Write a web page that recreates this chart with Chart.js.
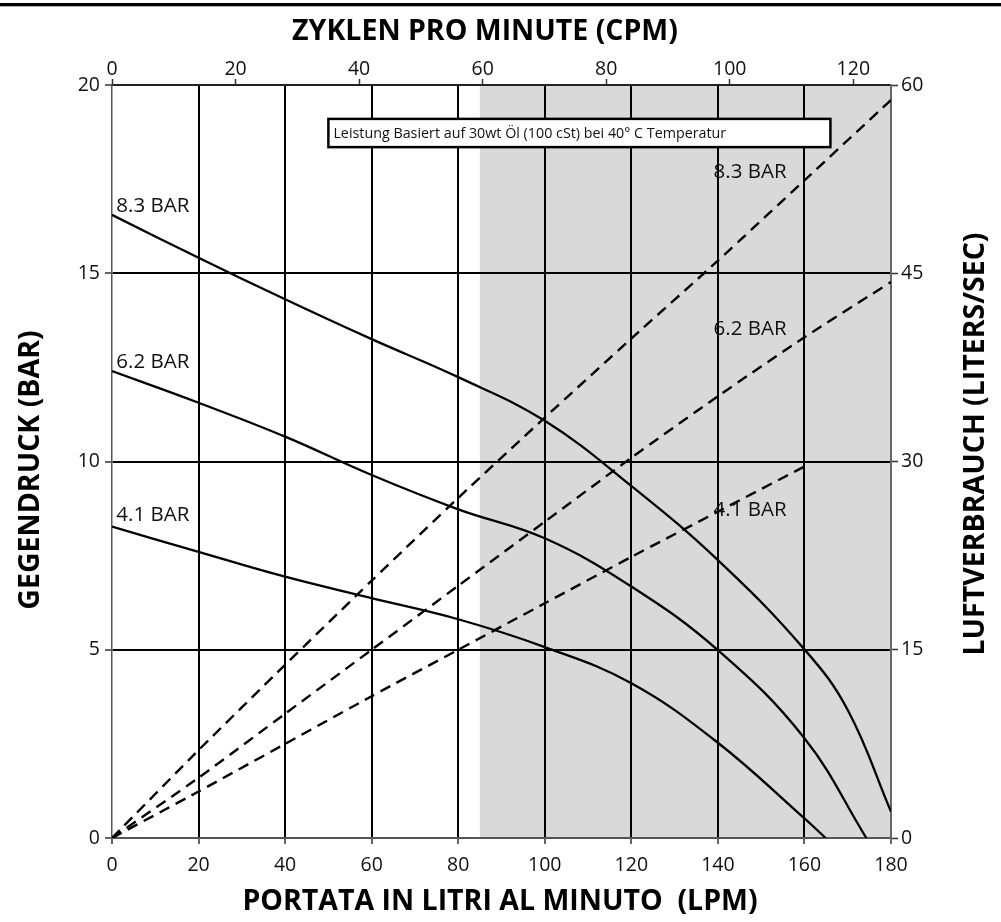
<!DOCTYPE html>
<html>
<head>
<meta charset="utf-8">
<script src="https://cdn.jsdelivr.net/npm/chart.js@4.4.1/dist/chart.umd.min.js"></script>
<style>
  html, body { margin: 0; padding: 0; background: #fff; }
  #wrap { width: 1001px; height: 922px; position: relative; }
</style>
</head>
<body>
<div id="wrap"><canvas id="pumpChart"></canvas></div>
<script>
// Kennlinien (Gegendruck in BAR über LPM)
const lpm83 = [0, 20, 40, 60, 80, 100, 120, 140, 160, 170, 180];
const bar83 = [16.55, 15.41, 14.31, 13.25, 12.24, 11.08, 9.35, 7.38, 5.01, 3.4, 0.7];

const lpm62 = [0, 20, 40, 60, 80, 100, 120, 140, 160, 174.3];
const bar62 = [12.4, 11.56, 10.66, 9.64, 8.73, 7.96, 6.68, 4.99, 2.65, 0];

const lpm41 = [0, 20, 40, 60, 80, 100, 120, 140, 160, 164.9];
const bar41 = [8.27, 7.6, 6.94, 6.37, 5.81, 5.07, 4.11, 2.53, 0.52, 0];

// Luftverbrauch (LITERS/SEC) über LPM
const airLpm = [0, 20, 40, 60, 80, 100, 120, 140, 160, 180];
const air83 = [0, 7.0, 13.8, 20.5, 27.1, 33.5, 39.8, 46.0, 52.4, 58.8];
const air62 = [0, 4.8, 9.9, 15.0, 20.1, 25.2, 30.3, 35.2, 39.9, 44.3];
const airLpm41 = [0, 20, 40, 60, 80, 100, 120, 140, 160];
const air41 = [0, 3.7, 7.5, 11.3, 15.0, 18.7, 22.4, 26.0, 29.6];

const curveNames = ['8.3 BAR', '6.2 BAR', '4.1 BAR'];

// Achsen
const lpmMax = 180, lpmStep = 20;
const barMax = 20, barStep = 5;
const lpsMax = 60, lpsStep = 15;
const cpmMax = 126.1, cpmStep = 20;
const shadeFrom = 85; // grauer Bereich ab 85 LPM

const FONT = "'Open Sans', 'Noto Sans', sans-serif";

const toXY = (xs, ys) => xs.map((x, i) => ({ x: x, y: ys[i] }));

function solid(xs, ys) {
  return {
    data: toXY(xs, ys), xAxisID: 'x', yAxisID: 'y',
    borderColor: '#000', borderWidth: 2.3, pointRadius: 0,
    tension: 0.4, fill: false
  };
}
function dashed(xs, ys) {
  return {
    data: toXY(xs, ys), xAxisID: 'x', yAxisID: 'y2',
    borderColor: '#000', borderWidth: 2.4, borderDash: [11, 7], pointRadius: 0,
    tension: 0.2, fill: false
  };
}

// Rand-Gitterlinien ausblenden (der Achsenrand liegt darüber)
const edgeGrid = (lo, hi) => c => (c.tick && (c.tick.value === lo || c.tick.value === hi)) ? 'rgba(0,0,0,0)' : '#000';

const decor = {
  id: 'decor',
  beforeDraw(chart) {
    const { ctx, chartArea, scales } = chart;
    const x0 = scales.x.getPixelForValue(shadeFrom);
    const x1 = scales.x.getPixelForValue(lpmMax);
    ctx.save();
    ctx.fillStyle = '#d9d9d9';
    ctx.fillRect(x0, chartArea.top, x1 - x0, chartArea.bottom - chartArea.top);
    ctx.fillStyle = '#000';
    ctx.fillRect(0, 3, chart.width, 3.3);
    ctx.restore();
  },
  afterDatasetsDraw(chart) {
    const { ctx, scales } = chart;
    const X = v => scales.x.getPixelForValue(v);
    const Y = v => scales.y.getPixelForValue(v);
    ctx.save();
    ctx.fillStyle = '#111';
    ctx.font = '20.5px ' + FONT;
    ctx.textBaseline = 'middle';
    ctx.textAlign = 'left';
    // links an den Kennlinien
    ctx.fillText(curveNames[0], X(1.0), Y(16.79));
    ctx.fillText(curveNames[1], X(1.0), Y(12.64));
    ctx.fillText(curveNames[2], X(1.0), Y(8.58));
    // rechts an den Luftlinien
    ctx.fillText(curveNames[0], X(139), Y(17.69));
    ctx.fillText(curveNames[1], X(139), Y(13.52));
    ctx.fillText(curveNames[2], X(139), Y(8.71));
    ctx.restore();
  },
  afterDraw(chart) {
    const { ctx, scales } = chart;
    const X = v => scales.x.getPixelForValue(v);
    const Y = v => scales.y.getPixelForValue(v);
    ctx.save();
    // Hinweisbox
    const bx0 = X(50), bx1 = X(166), by0 = Y(19.1), by1 = Y(18.35);
    ctx.fillStyle = '#fff';
    ctx.fillRect(bx0, by0, bx1 - bx0, by1 - by0);
    ctx.strokeStyle = '#000';
    ctx.lineWidth = 2.5;
    ctx.strokeRect(bx0, by0, bx1 - bx0, by1 - by0);
    ctx.fillStyle = '#111';
    ctx.font = '14.3px ' + FONT;
    ctx.textBaseline = 'middle';
    ctx.textAlign = 'left';
    ctx.fillText('Leistung Basiert auf 30wt Öl (100 cSt) bei 40° C Temperatur', bx0 + 5, (by0 + by1) / 2 + 0.5);

    // Achsentitel
    ctx.fillStyle = '#000';
    ctx.font = 'bold 28.5px ' + FONT;
    ctx.textAlign = 'center';
    ctx.fillText('ZYKLEN PRO MINUTE (CPM)', 485, 32);
    ctx.fillText('PORTATA IN LITRI AL MINUTO  (LPM)', 500, 902);

    ctx.translate(31, 470);
    ctx.rotate(-Math.PI / 2);
    ctx.fillText('GEGENDRUCK (BAR)', 0, 0);
    ctx.setTransform(1, 0, 0, 1, 0, 0);
    ctx.translate(976, 444);
    ctx.rotate(-Math.PI / 2);
    ctx.fillText('LUFTVERBRAUCH (LITERS/SEC)', 0, 0);
    ctx.restore();
  }
};

const tickFont = { family: FONT, size: 19.5 };

new Chart(document.getElementById('pumpChart').getContext('2d'), {
  type: 'line',
  data: {
    datasets: [
      solid(lpm83, bar83),
      solid(lpm62, bar62),
      solid(lpm41, bar41),
      dashed(airLpm, air83),
      dashed(airLpm, air62),
      dashed(airLpm41, air41)
    ]
  },
  options: {
    responsive: true,
    maintainAspectRatio: false,
    animation: false,
    layout: { padding: 0 },
    plugins: { legend: { display: false }, tooltip: { enabled: false }, title: { display: false } },
    scales: {
      x: {
        type: 'linear', position: 'bottom', min: 0, max: lpmMax,
        ticks: { stepSize: lpmStep, color: '#111', font: tickFont, padding: 10, maxRotation: 0 },
        grid: { color: edgeGrid(0, lpmMax), lineWidth: 2, tickColor: '#333', tickLength: 6, tickWidth: 1.5 },
        border: { color: '#555', width: 2 },
        afterFit(s) { s.height = 84; }
      },
      x2: {
        type: 'linear', position: 'top', min: 0, max: cpmMax,
        ticks: { stepSize: cpmStep, includeBounds: false, color: '#111', font: tickFont, padding: -2, maxRotation: 0 },
        grid: { drawOnChartArea: false, tickColor: '#333', tickLength: 6, tickWidth: 1.5 },
        border: { color: '#222', width: 2 },
        afterFit(s) { s.height = 85; }
      },
      y: {
        type: 'linear', position: 'left', min: 0, max: barMax,
        ticks: { stepSize: barStep, color: '#111', font: tickFont, padding: 5 },
        grid: { color: edgeGrid(0, barMax), lineWidth: 2, tickColor: '#333', tickLength: 7, tickWidth: 1.5 },
        border: { color: '#555', width: 1.5 },
        afterFit(s) { s.width = 112; }
      },
      y2: {
        type: 'linear', position: 'right', min: 0, max: lpsMax,
        ticks: { stepSize: lpsStep, color: '#111', font: tickFont, padding: 3 },
        grid: { drawOnChartArea: false, tickColor: '#333', tickLength: 7, tickWidth: 1.5 },
        border: { color: '#666', width: 2 },
        afterFit(s) { s.width = 110; }
      }
    }
  },
  plugins: [decor]
});
</script>
</body>
</html>
